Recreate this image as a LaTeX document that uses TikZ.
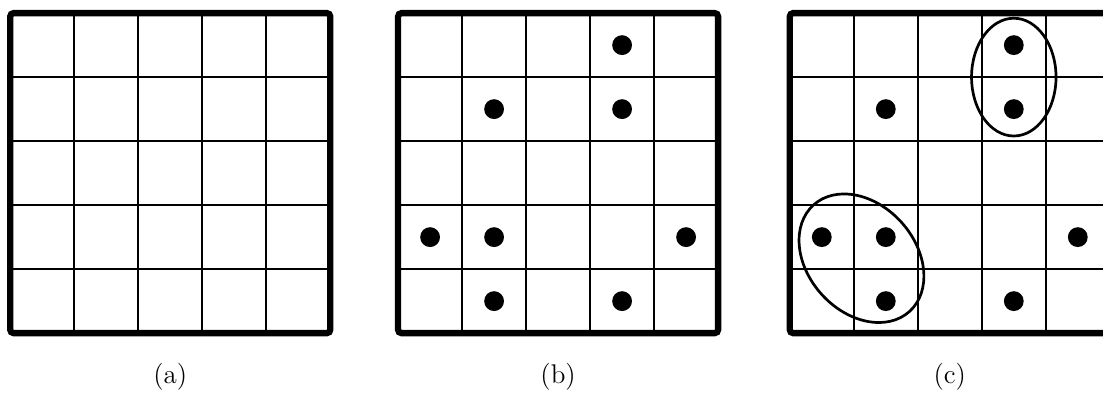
\documentclass[tikz,border=0pt]{standalone}
\usetikzlibrary{positioning}
\begin{document}
\begin{tikzpicture}[
  cellline/.style={line width=0.9pt},
  frame/.style={line width=2.8pt,rounded corners=1.5pt},
  dot/.style={circle,fill=black,inner sep=0pt,minimum size=0.31cm},
  ring/.style={line width=1.2pt}]
\useasboundingbox (0,0) rectangle (17.234,6.125);
\clip (0,0) rectangle (17.234,6.125);
% three 5x5 boards
\foreach \gx/\lab in {0.16/a,6.22/b,12.34/c}{
  \draw[cellline,shift={(\gx,0.92)}] (0,0) grid (5,5);
  \draw[frame,shift={(\gx,0.92)}] (0,0) rectangle (5,5);
  \node[font=\fontsize{12}{14}\selectfont] (lab_\lab) at (\gx+2.5,0.24) {(\lab)};
}
% occupied cells (column/row, row counted from the top)
\foreach \gx/\lab in {6.22/b,12.34/c}{
  \foreach \cc/\rr in {4/1,2/2,4/2,1/4,2/4,5/4,2/5,4/5}{
    \node[dot] (d_\lab_\cc_\rr) at (\gx+\cc-0.5,6.42-\rr) {};
  }
}
% groups in (c)
\draw[ring] (15.84,4.92) ellipse [x radius=0.66, y radius=0.92];
\draw[ring,rotate around={-48:(13.46,2.09)}] (13.46,2.09) ellipse [x radius=1.12, y radius=0.84];
\end{tikzpicture}
\end{document}
